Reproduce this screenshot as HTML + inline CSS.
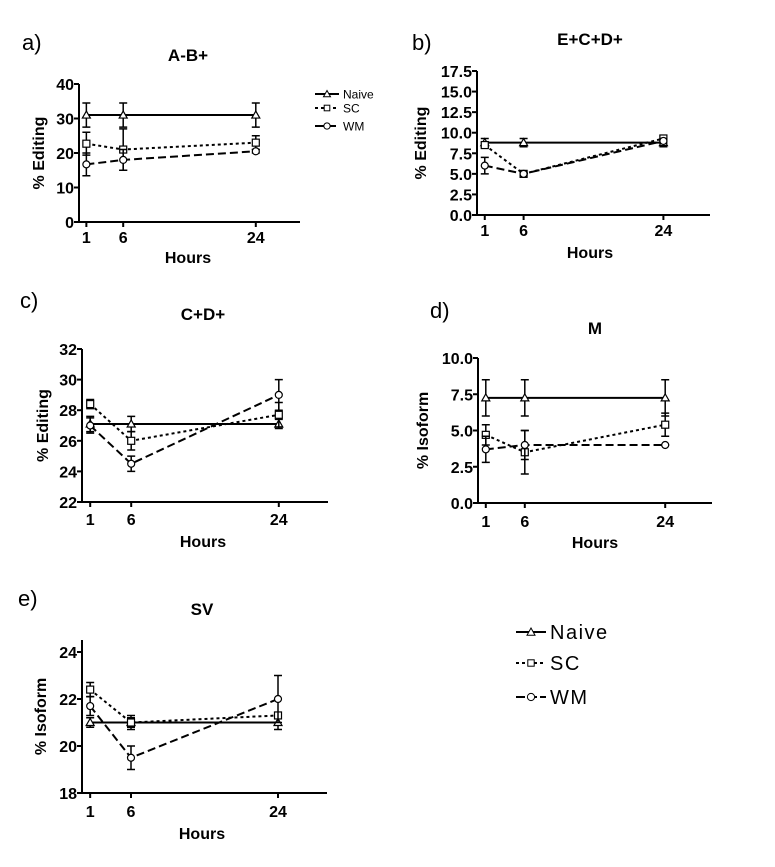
<!DOCTYPE html>
<html><head><meta charset="utf-8"><style>
body{margin:0;background:#fff}
svg{display:block;font-family:"Liberation Sans",Arial,sans-serif}
</style></head><body>
<svg id="fig" width="775" height="867" viewBox="0 0 775 867" xmlns="http://www.w3.org/2000/svg"></svg>
<script>
const hours = [1, 6, 24];
const seriesNames = ["Naive", "SC", "WM"];
const titlesArr = ["A-B+", "E+C+D+", "C+D+", "M", "SV"];
const letters = ["a)", "b)", "c)", "d)", "e)"];
const yTitles = ["% Editing", "% Editing", "% Editing", "% Isoform", "% Isoform"];
const yTicksA = [0, 10, 20, 30, 40];
const yTicksB = ["0.0","2.5","5.0","7.5","10.0","12.5","15.0","17.5"];
const yTicksC = [22, 24, 26, 28, 30, 32];
const yTicksD = ["0.0","2.5","5.0","7.5","10.0"];
const yTicksE = [18, 20, 22, 24];
const naiveA = [31, 31, 31], naiveAErr = [3.5, 3.5, 3.5];
const scA = [22.7, 21, 23], scAErr = [3.3, 6, 2];
const wmA = [16.7, 18, 20.5], wmAErr = [3.3, 3, 0.5];
const naiveB = [8.8, 8.8, 8.8], naiveBErr = [0.5, 0.5, 0.5];
const scB = [8.5, 5, 9.3], scBErr = [0.3, 0.1, 0.3];
const wmB = [6, 5, 9], wmBErr = [1, 0.1, 0.3];
const naiveC = [27.1, 27.1, 27.1], naiveCErr = [0.5, 0.5, 0.3];
const scC = [28.4, 26, 27.7], scCErr = [0.3, 0.6, 0.8];
const wmC = [27, 24.5, 29], wmCErr = [0.5, 0.5, 1];
const naiveD = [7.25, 7.25, 7.25], naiveDErr = [1.25, 1.25, 1.25];
const scD = [4.7, 3.5, 5.4], scDErr = [0.7, 1.5, 0.8];
const wmD = [3.7, 4, 4], wmDErr = [0.9, 1, 0];
const naiveE = [21, 21, 21], naiveEErr = [0.2, 0.2, 0.3];
const scE = [22.4, 21, 21.3], scEErr = [0.3, 0.3, 0.1];
const wmE = [21.7, 19.5, 22], wmEErr = [0.4, 0.5, 1];

const NS = "http://www.w3.org/2000/svg";
const svg = document.getElementById("fig");
function mk(tag, attrs, parent, text){
  const e = document.createElementNS(NS, tag);
  for (const k in attrs) e.setAttribute(k, attrs[k]);
  if (text !== undefined) e.textContent = text;
  (parent || svg).appendChild(e);
  return e;
}
const panels = [
  {x0:79, x1:300, yTop:84, yBot:222, ymin:0, ymax:40, axTop:84, ticks:yTicksA, lx:22, ly:50, tx:188, ty:61, ytx:38, tly:243, hy:263,
   data:[[naiveA,naiveAErr],[scA,scAErr],[wmA,wmAErr]]},
  {x0:477, x1:710, yTop:71, yBot:215, ymin:0, ymax:17.5, axTop:71, ticks:yTicksB, lx:412, ly:50, tx:590, ty:45, ytx:420, tly:236, hy:258,
   data:[[naiveB,naiveBErr],[scB,scBErr],[wmB,wmBErr]]},
  {x0:82, x1:328, yTop:349, yBot:502, ymin:22, ymax:32, axTop:349, ticks:yTicksC, lx:20, ly:308, tx:203, ty:320, ytx:42, tly:525, hy:547,
   data:[[naiveC,naiveCErr],[scC,scCErr],[wmC,wmCErr]]},
  {x0:478, x1:712, yTop:358, yBot:503, ymin:0, ymax:10, axTop:358, ticks:yTicksD, lx:430, ly:318, tx:595, ty:334, ytx:422, tly:527, hy:548,
   data:[[naiveD,naiveDErr],[scD,scDErr],[wmD,wmDErr]]},
  {x0:82, x1:327, yTop:652, yBot:793, ymin:18, ymax:24, axTop:640, ticks:yTicksE, lx:18, ly:606, tx:202, ty:615, ytx:40, tly:817, hy:839,
   data:[[naiveE,naiveEErr],[scE,scEErr],[wmE,wmEErr]]}
];
const dashes = ["", "3,3", "8,4"];
panels.forEach((p, i) => {
  const g = mk("g", {}, svg);
  
  
  const xs = h => p.x0 + (h / 30) * (p.x1 - p.x0);
  const ys = v => p.yBot - (v - p.ymin) / (p.ymax - p.ymin) * (p.yBot - p.yTop);
  const lt = mk("text", {x:p.lx, y:p.ly, "font-size":22}, g, letters[i]);
  
  
  const tt = mk("text", {x:p.tx, y:p.ty, "font-size":17, "font-weight":"bold", "text-anchor":"middle"}, g, titlesArr[i]);
  
  
  const ax = mk("path", {d:`M${p.x0},${p.axTop}V${p.yBot}H${p.x1}`, stroke:"#000", "stroke-width":2, fill:"none"}, g);
  
  
  p.ticks.forEach(t => {
    const y = ys(parseFloat(t));
    mk("line", {x1:p.x0-5, x2:p.x0, y1:y, y2:y, stroke:"#000", "stroke-width":2}, g);
    const tl = mk("text", {x:p.x0-5, y:y+6, "font-size":16, "font-weight":"bold", "text-anchor":"end"}, g, t);
    
    
  });
  hours.forEach(h => {
    const x = xs(h);
    mk("line", {x1:x, x2:x, y1:p.yBot, y2:p.yBot+5, stroke:"#000", "stroke-width":2}, g);
    const tl = mk("text", {x:x, y:p.tly, "font-size":16, "font-weight":"bold", "text-anchor":"middle"}, g, h);
    
    
  });
  const hx = mk("text", {x:p.tx, y:p.hy, "font-size":16, "font-weight":"bold", "text-anchor":"middle"}, g, "Hours");
  
  
  const cy = (p.axTop + p.yBot) / 2;
  const yt = mk("text", {x:p.ytx, y:cy, "font-size":16, "font-weight":"bold", "text-anchor":"middle", transform:`rotate(-90 ${p.ytx} ${cy})`, dy:6}, g, yTitles[i]);
  
  
  p.data.forEach((d, s) => {
    const [vals, errs] = d;
    const sg = mk("g", {}, g);
    
    
    const pts = hours.map((h, k) => xs(h) + "," + ys(vals[k])).join(" ");
    const pl = mk("polyline", {points:pts, fill:"none", stroke:"#000", "stroke-width":2, "stroke-dasharray":dashes[s]}, sg);
    
    
    hours.forEach((h, k) => {
      const x = xs(h), y1 = ys(vals[k] + errs[k]), y2 = ys(vals[k] - errs[k]);
      const eb = mk("path", {d:`M${x},${y1}V${y2}M${x-4},${y1}H${x+4}M${x-4},${y2}H${x+4}`, stroke:"#000", "stroke-width":1.5, fill:"none"}, sg);
      
      
      const y = ys(vals[k]);
      let m;
      if (s === 0) m = mk("path", {d:`M${x},${y-4}L${x+4},${y+3}L${x-4},${y+3}Z`, fill:"#fff", stroke:"#000", "stroke-width":1.2}, sg);
      else if (s === 1) m = mk("rect", {x:x-3.5, y:y-3.5, width:7, height:7, fill:"#fff", stroke:"#000", "stroke-width":1.2}, sg);
      else m = mk("circle", {cx:x, cy:y, r:3.5, fill:"#fff", stroke:"#000", "stroke-width":1.2}, sg);
      
      
    });
  });
});
function legend(x, ys, len, fs, r, ls){
  const g = mk("g", {}, svg);
  
  
  const ld = ["", "3,3", "9,3"];
  seriesNames.forEach((n, s) => {
    const y = ys[s];
    const e = mk("g", {}, g);
    
    
    mk("line", {x1:x, x2:x+len, y1:y, y2:y, stroke:"#000", "stroke-width":2, "stroke-dasharray":ld[s]}, e);
    const cx = x + len/2;
    if (s === 0) mk("path", {d:`M${cx},${y-r}L${cx+r},${y+r*0.8}L${cx-r},${y+r*0.8}Z`, fill:"#fff", stroke:"#000"}, e);
    else if (s === 1) mk("rect", {x:cx-r*0.8, y:y-r*0.8, width:r*1.6, height:r*1.6, fill:"#fff", stroke:"#000"}, e);
    else mk("circle", {cx:cx, cy:y, r:r*0.9, fill:"#fff", stroke:"#000"}, e);
    mk("text", {x:x+len+4, y:y+fs*0.36, "font-size":fs, "letter-spacing":ls}, e, n);
  });
}
legend(315, [94, 108, 126], 24, 12, 3.5, 0);
legend(516, [632, 663, 697], 30, 20, 4, 1.5);
</script>
</body></html>
